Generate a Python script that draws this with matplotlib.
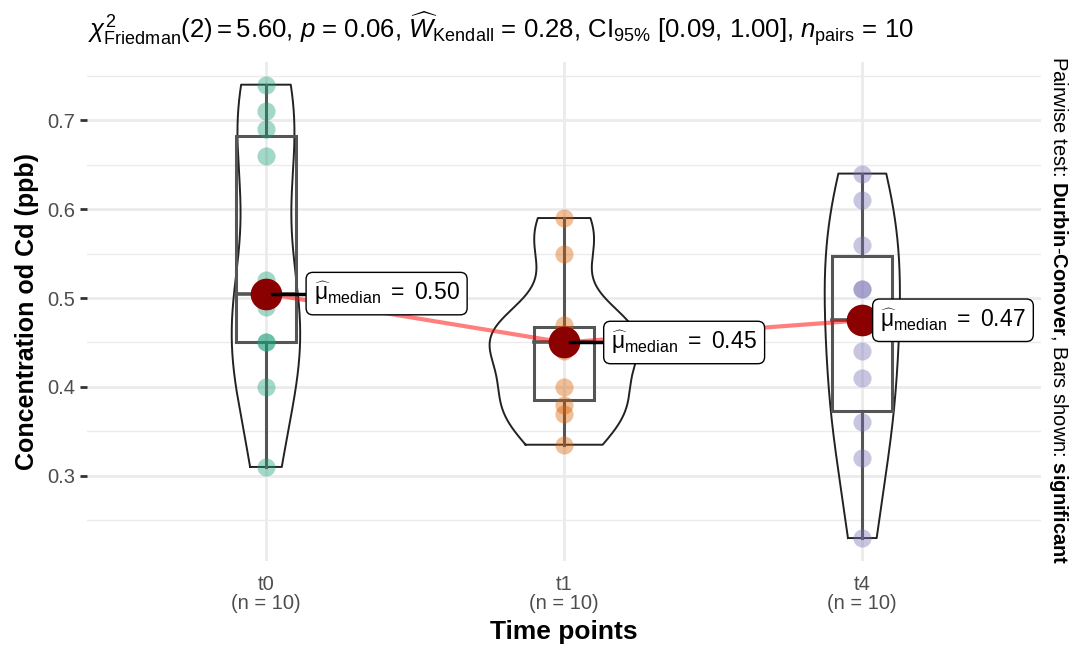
import numpy as np
import matplotlib
matplotlib.use("Agg")
import matplotlib.pyplot as plt

plt.rcParams['font.family'] = ['Liberation Sans', 'DejaVu Sans']
plt.rcParams['mathtext.fontset'] = 'custom'
plt.rcParams['mathtext.rm'] = 'Liberation Sans'
plt.rcParams['mathtext.it'] = 'Liberation Sans:italic'
plt.rcParams['mathtext.bf'] = 'Liberation Sans:bold'

# data
groups = ["t0", "t1", "t4"]
t0 = [0.31, 0.40, 0.45, 0.45, 0.49, 0.52, 0.66, 0.69, 0.71, 0.74]
t1 = [0.335, 0.37, 0.38, 0.40, 0.44, 0.46, 0.46, 0.47, 0.55, 0.59]
t4 = [0.23, 0.32, 0.36, 0.41, 0.44, 0.51, 0.51, 0.56, 0.61, 0.64]
median_labels = ["0.50", "0.45", "0.47"]  # as printed in the chart
colors = ["#1B9E77", "#D95F02", "#7570B3"]
values = [t0, t1, t4]

# label placement (repelled labels in the original)
label_dx = [0.16, 0.158, 0.06]


def kde(v, grid):
    v = np.asarray(v)
    n = len(v)
    iqr = np.subtract(*np.percentile(v, [75, 25]))
    bw = 0.9 * min(np.std(v, ddof=1), iqr / 1.34) * n ** -0.2
    d = np.exp(-0.5 * ((grid[:, None] - v[None, :]) / bw) ** 2).sum(1)
    return d / (n * bw * np.sqrt(2 * np.pi))


fig = plt.figure(figsize=(10.88, 6.46), dpi=100)
ax = fig.add_axes([0.08, 0.132, 0.877, 0.772])

grids = [np.linspace(min(v), max(v), 512) for v in values]
dens = [kde(v, g) for v, g in zip(values, grids)]
dmax = max(d.max() for d in dens)

meds = [np.median(v) for v in values]
ax.plot(range(3), meds, color="red", alpha=0.5, lw=3, zorder=4)

for i, (v, g, d, c) in enumerate(zip(values, grids, dens, colors)):
    w = d / dmax * 0.25
    xs = np.concatenate([i - w, (i + w)[::-1], [i - w[0]]])
    ys = np.concatenate([g, g[::-1], [g[0]]])
    ax.plot(xs, ys, color="#222222", lw=1.4, zorder=2)
    q1, q2, q3 = np.percentile(v, [25, 50, 75])
    ax.plot([i, i], [min(v), q1], color="#555555", lw=2.2, zorder=2)
    ax.plot([i, i], [q3, max(v)], color="#555555", lw=2.2, zorder=2)
    ax.add_patch(plt.Rectangle((i - 0.1, q1), 0.2, q3 - q1, fill=False,
                               ec="#555555", lw=2.2, zorder=2))
    ax.plot([i - 0.1, i + 0.1], [q2, q2], color="#555555", lw=2.6, zorder=2)
    ax.scatter([i] * len(v), v, s=170, color=c, alpha=0.4, lw=0, zorder=3)
    ax.scatter([i], [q2], s=520, color="#8B0000", lw=0, zorder=5)
    if label_dx[i] > 0.1:
        ax.plot([i + 0.02, i + label_dx[i] - 0.03], [q2, q2], color="black",
                lw=2.5, zorder=5)
    ax.text(i + label_dx[i], q2,
            r"$\widehat{\mathrm{\mu}}_{\mathrm{median}}\ =\ %s$" % median_labels[i],
            fontsize=16.5, va="center", ha="left", zorder=6,
            bbox=dict(boxstyle="round,pad=0.33,rounding_size=0.3", fc="white",
                      ec="black", lw=1.0))

ax.set_xlim(-0.6, 2.6)
ax.set_ylim(0.2045, 0.7655)
ax.set_xticks(range(3))
ax.set_xticklabels([f"{g}\n(n = {len(v)})" for g, v in zip(groups, values)],
                   color="#4D4D4D", fontsize=14.5, linespacing=1.0)
ax.set_yticks([0.3, 0.4, 0.5, 0.6, 0.7])
ax.set_yticks([0.25, 0.35, 0.45, 0.55, 0.65, 0.75], minor=True)
ax.tick_params(axis="y", which="major", labelsize=14.5, labelcolor="#4D4D4D",
               length=5, width=2, color="#333333")
ax.tick_params(axis="y", which="minor", length=0)
ax.tick_params(axis="x", length=0, pad=10)
for s in ax.spines.values():
    s.set_visible(False)
ax.grid(True, which="major", color="#EBEBEB", lw=2)
ax.grid(True, which="minor", axis="y", color="#EBEBEB", lw=1)
ax.set_axisbelow(True)

ax.set_xlabel("Time points", fontsize=19, fontweight="bold", labelpad=5)
ax.set_ylabel("Concentration od Cd (ppb)", fontsize=18, fontweight="bold",
              labelpad=6)

fig.text(0.081, 0.956,
         r"$\chi^2_{\mathrm{Friedman}}(2) = 5.60$, $p$ = 0.06, "
         r"$\widehat{W}_{\mathrm{Kendall}}$ = 0.28, CI$_{95\%}$ [0.09, 1.00], "
         r"$n_{\mathrm{pairs}}$ = 10",
         fontsize=18.5, ha="left", va="center")
fig.text(0.973, 0.52,
         r"Pairwise test: $\mathbf{Durbin}$-$\mathbf{Conover}$, "
         r"Bars shown: $\mathbf{significant}$",
         fontsize=14.5, rotation=270, ha="center", va="center")

fig.savefig("out.png", dpi=100)
